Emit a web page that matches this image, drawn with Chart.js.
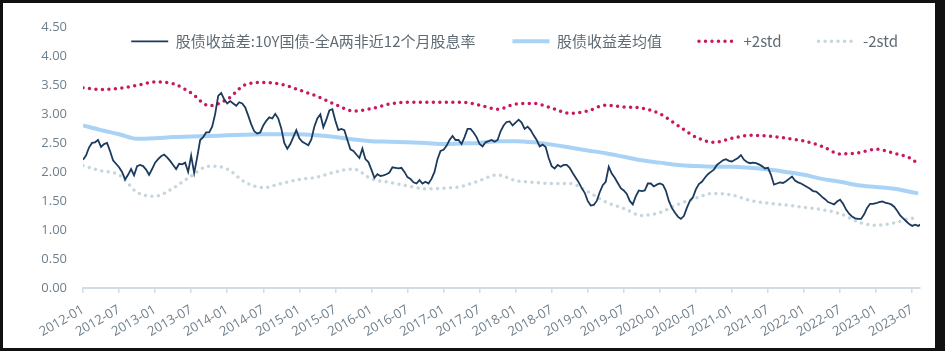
<!DOCTYPE html>
<html>
<head>
<meta charset="utf-8">
<script src="https://cdn.jsdelivr.net/npm/chart.js@4.4.1/dist/chart.umd.min.js"></script>
<style>
  html, body { margin: 0; padding: 0; background: #fff; }
  #frame { position: absolute; left: 0; top: 0; width: 945px; height: 351px; box-sizing: border-box;
           border: 3px solid #111; border-right-width: 10px; background: #fff; }
  canvas { display: block; }
</style>
</head>
<body>
<div id="frame"><canvas id="c" width="932" height="345" style="width:932px;height:345px"></canvas></div>
<script>
// ---- data ----
const tickLabels = ['2012-01','2012-07','2013-01','2013-07','2014-01','2014-07','2015-01','2015-07',
  '2016-01','2016-07','2017-01','2017-07','2018-01','2018-07','2019-01','2019-07',
  '2020-01','2020-07','2021-01','2021-07','2022-01','2022-07','2023-01','2023-07'];
const seriesNames = ['股债收益差:10Y国债-全A两非近12个月股息率', '股债收益差均值', '+2std', '-2std'];

// spread series, sampled every half month from 2012-01
const spreadValues = [
2.21,2.28,2.42,2.5,2.51,2.55,2.43,2.48,2.5,2.36,
2.2,2.14,2.08,2.0,1.87,1.95,2.05,1.94,2.1,2.12,
2.1,2.04,1.95,2.05,2.16,2.22,2.27,2.3,2.25,2.19,
2.12,2.05,2.14,2.13,2.16,2.0,2.28,1.98,2.25,2.55,
2.6,2.68,2.68,2.78,3.0,3.31,3.36,3.25,3.18,3.22,
3.18,3.14,3.2,3.18,3.11,2.97,2.82,2.7,2.66,2.68,
2.8,2.88,2.94,2.92,3.0,2.92,2.75,2.5,2.4,2.48,
2.6,2.72,2.58,2.52,2.49,2.46,2.56,2.78,2.92,2.99,
2.77,2.9,3.06,3.08,2.88,2.72,2.74,2.72,2.55,2.39,
2.36,2.3,2.24,2.4,2.22,2.17,2.04,1.9,1.96,1.93,
1.94,1.96,1.99,2.08,2.07,2.06,2.07,2.0,1.91,1.88,
1.82,1.8,1.86,1.8,1.83,1.8,1.88,2.0,2.22,2.36,
2.38,2.45,2.55,2.62,2.55,2.55,2.48,2.6,2.74,2.74,
2.68,2.6,2.48,2.44,2.51,2.53,2.55,2.52,2.55,2.7,
2.8,2.86,2.87,2.8,2.85,2.9,2.85,2.74,2.78,2.72,
2.63,2.55,2.44,2.47,2.43,2.24,2.1,2.06,2.12,2.09,
2.12,2.12,2.07,1.98,1.9,1.82,1.72,1.64,1.5,1.42,
1.43,1.5,1.65,1.77,1.83,2.09,1.97,1.9,1.81,1.72,
1.68,1.62,1.5,1.44,1.58,1.68,1.67,1.68,1.8,1.8,
1.75,1.78,1.8,1.78,1.68,1.5,1.38,1.3,1.23,1.19,
1.24,1.38,1.5,1.56,1.7,1.79,1.83,1.9,1.96,2.0,
2.04,2.12,2.16,2.2,2.22,2.19,2.18,2.21,2.24,2.29,
2.21,2.17,2.15,2.16,2.15,2.13,2.1,2.06,2.07,1.95,
1.78,1.8,1.82,1.81,1.84,1.88,1.92,1.85,1.82,1.8,
1.77,1.74,1.71,1.67,1.66,1.62,1.57,1.53,1.48,1.46,
1.44,1.49,1.52,1.45,1.35,1.28,1.23,1.2,1.19,1.19,
1.27,1.38,1.45,1.45,1.46,1.48,1.49,1.47,1.46,1.44,
1.4,1.33,1.25,1.2,1.15,1.1,1.07,1.09,1.07,1.1
];

// mean / bands, sampled quarterly (months since 2012-01), last sample 2023-08
const bandMonths = [0,3,6,9,12,15,18,21,24,27,30,33,36,39,42,45,48,51,54,57,60,63,66,69,72,75,78,81,84,87,90,93,96,99,102,105,108,111,114,117,120,123,126,129,132,135,138,139];
const meanValues = [2.80,2.72,2.65,2.57,2.58,2.6,2.61,2.62,2.63,2.64,2.65,2.65,2.65,2.63,2.6,2.56,2.53,2.52,2.51,2.5,2.48,2.49,2.5,2.53,2.53,2.51,2.47,2.42,2.37,2.32,2.26,2.2,2.16,2.12,2.1,2.09,2.09,2.07,2.04,2.0,1.95,1.88,1.83,1.77,1.74,1.71,1.65,1.63];
const upperValues = [3.45,3.42,3.44,3.49,3.55,3.52,3.36,3.14,3.25,3.5,3.54,3.51,3.41,3.3,3.16,3.05,3.09,3.17,3.2,3.2,3.2,3.2,3.15,3.08,3.17,3.18,3.1,3.01,3.05,3.15,3.12,3.1,3.0,2.8,2.6,2.51,2.58,2.63,2.62,2.58,2.53,2.44,2.31,2.33,2.39,2.32,2.22,2.13];
const lowerValues = [2.11,2.02,1.95,1.65,1.58,1.72,1.93,2.1,2.05,1.82,1.73,1.8,1.87,1.91,2.0,2.05,1.88,1.82,1.76,1.71,1.72,1.75,1.85,1.95,1.85,1.82,1.8,1.8,1.66,1.48,1.37,1.25,1.3,1.44,1.55,1.63,1.6,1.51,1.46,1.43,1.39,1.35,1.28,1.14,1.08,1.12,1.2,1.2];

// ---- build chart ----
const spreadData = spreadValues.map((v, k) => ({ x: k / 2, y: v }));
const band = arr => arr.map((v, j) => ({ x: bandMonths[j], y: v }));
const tickMonths = tickLabels.map((_, i) => i * 6);

const cjk = '"Noto Sans CJK SC", "Noto Sans", sans-serif';
const legendGap = ['\u3000\u3000', '\u3000\u3000', '\u3000\u3000', '\u3000'];

// legend drawn over the top of the plot area (takes no layout height)
const legendOverlay = {
  id: 'legendOverlay',
  afterInit(chart) {
    const lg = chart.legend;
    if (lg && !lg._overlayPatched) {
      const origFit = lg.fit;
      lg.fit = function () { origFit.call(this); this._realHeight = this.height; this.height = 0; };
      const origDraw = lg.draw;
      lg.draw = function () {
        const b = this.bottom, h = this.height;
        this.bottom = this.top + (this._realHeight || 40);
        this.height = this._realHeight || 40;
        origDraw.call(this);
        this.bottom = b; this.height = h;
      };
      lg._overlayPatched = true;
    }
  }
};

new Chart(document.getElementById('c'), {
  type: 'line',
  data: {
    datasets: [
      { label: seriesNames[0], data: spreadData, borderColor: '#1b3a5c', backgroundColor: '#1b3a5c',
        borderWidth: 1.8, pointRadius: 0, tension: 0, order: 1 },
      { label: seriesNames[1], data: band(meanValues), borderColor: '#a9d3f6', backgroundColor: '#a9d3f6',
        borderWidth: 4, pointRadius: 0, cubicInterpolationMode: 'monotone', order: 2 },
      { label: seriesNames[2], data: band(upperValues), borderColor: '#c8195e', backgroundColor: '#c8195e',
        borderWidth: 3.5, borderDash: [0, 6.5], borderCapStyle: 'round', pointRadius: 0,
        cubicInterpolationMode: 'monotone', order: 3 },
      { label: seriesNames[3], data: band(lowerValues), borderColor: '#c6d6dd', backgroundColor: '#c6d6dd',
        borderWidth: 3.5, borderDash: [0, 6.5], borderCapStyle: 'round', pointRadius: 0,
        cubicInterpolationMode: 'monotone', order: 4 }
    ]
  },
  plugins: [legendOverlay],
  options: {
    responsive: false,
    animation: false,
    events: [],
    layout: { padding: { left: 0, top: 20, right: 15, bottom: 0 } },
    plugins: {
      tooltip: { enabled: false },
      legend: {
        position: 'top',
        align: 'end',
        labels: {
          color: '#5f6b74',
          font: { family: cjk, size: 15 },
          usePointStyle: true,
          pointStyle: 'line',
          pointStyleWidth: 37,
          boxWidth: 37,
          boxHeight: 4,
          padding: 7,
          generateLabels(chart) {
            const items = Chart.defaults.plugins.legend.labels.generateLabels(chart);
            items.forEach((it, i) => {
              const ds = chart.data.datasets[i];
              it.pointStyle = 'line';
              it.strokeStyle = ds.borderColor;
              it.fillStyle = ds.borderColor;
              it.lineWidth = ds.borderWidth;
              it.lineDash = ds.borderDash || [];
              it.lineCap = ds.borderCapStyle || 'butt';
              it.text = it.text + legendGap[i];
            });
            return items;
          }
        }
      }
    },
    scales: {
      x: {
        type: 'linear',
        min: 0,
        max: 139.3,
        afterBuildTicks(s) { s.ticks = tickMonths.map(v => ({ value: v })); },
        afterFit(s) { s.height = 60; },
        ticks: {
          autoSkip: false,
          minRotation: 30,
          maxRotation: 30,
          padding: 9,
          color: '#6f7f8c',
          font: { family: '"Open Sans", sans-serif', size: 13 },
          callback(value, index) { return tickLabels[index]; }
        },
        grid: { display: true, drawOnChartArea: false, drawTicks: true, tickLength: 5, color: '#d3dce2', lineWidth: 1.5 },
        border: { display: true, color: '#d3dce2', width: 2 }
      },
      y: {
        min: 0,
        max: 4.5,
        afterFit(s) { s.width = 80; },
        ticks: {
          stepSize: 0.5,
          padding: 16,
          color: '#6f7f8c',
          font: { family: '"Open Sans", sans-serif', size: 13 },
          callback(v) { return Number(v).toFixed(2); }
        },
        grid: { display: false, drawTicks: false },
        border: { display: false }
      }
    }
  }
});
</script>
</body>
</html>
